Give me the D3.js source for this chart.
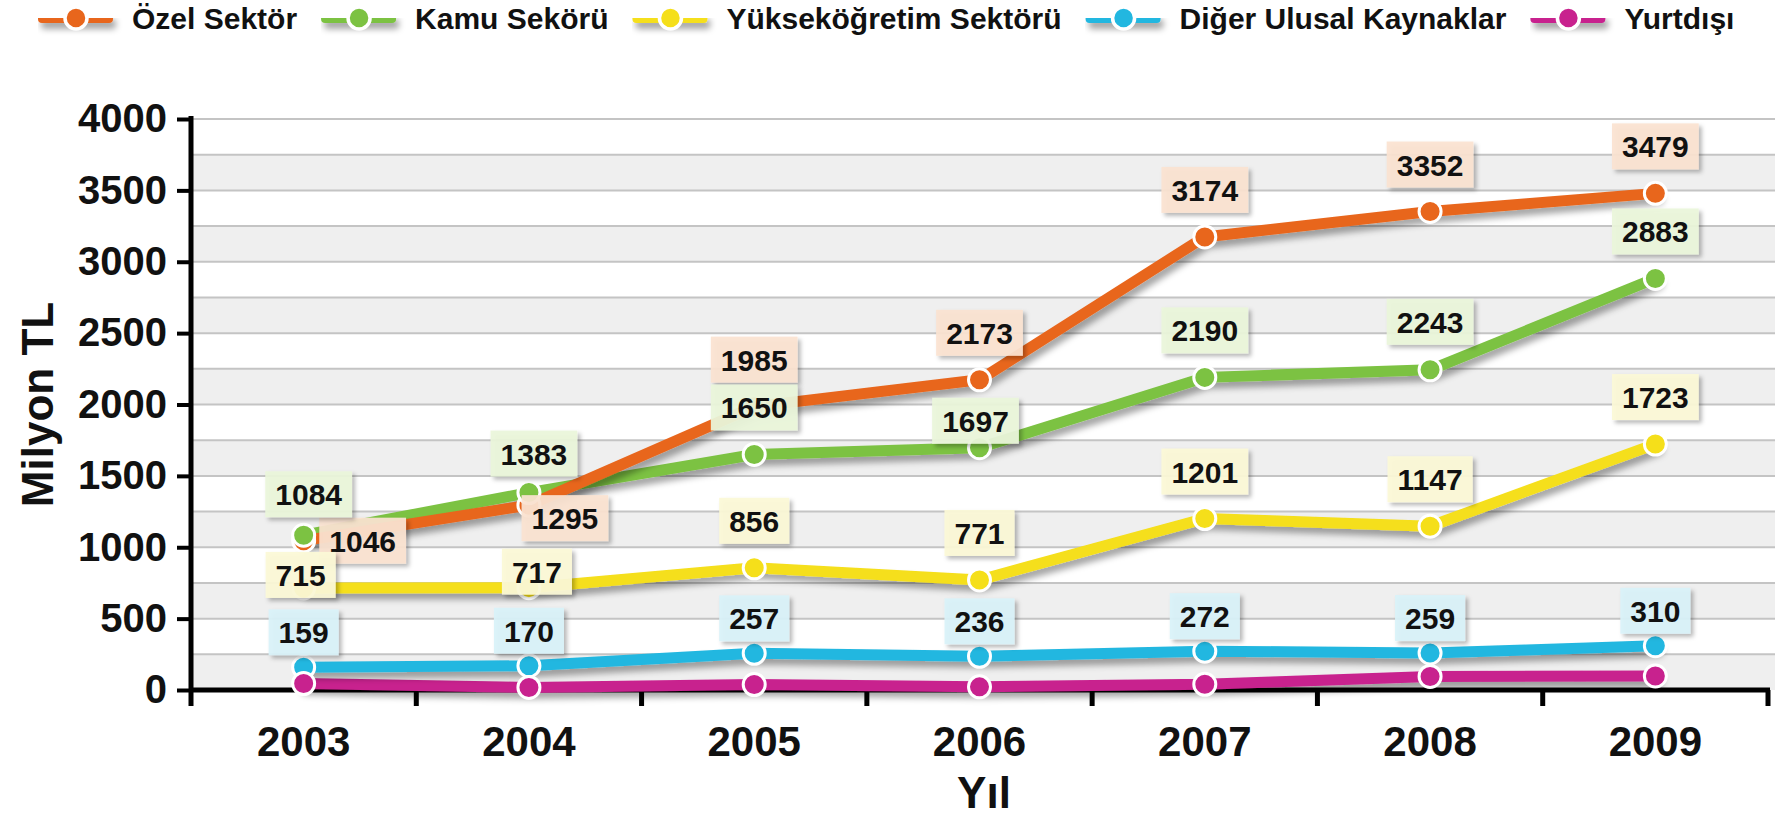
<!DOCTYPE html>
<html lang="tr">
<head>
<meta charset="UTF-8">
<title>Ar-Ge harcamaları - Milyon TL</title>
<script src="https://d3js.org/d3.v7.min.js"></script>
<style>
  body { margin: 0; background: #fff; }
  text { font-family: "Liberation Sans", Arial, sans-serif; font-weight: bold; fill: #111; }
  .axis text { font-size: 40px; }
  .xaxis text { font-size: 42px; }
  .axis line { stroke: #000; stroke-width: 4; }
  .legend text { font-size: 30px; }
  .lbl text { font-size: 30px; text-anchor: middle; }
</style>
</head>
<body>
<div id="chart"></div>
<script>
// data
const years = ["2003", "2004", "2005", "2006", "2007", "2008", "2009"];
const seriesNames = ["Özel Sektör", "Kamu Sekörü", "Yükseköğretim Sektörü", "Diğer Ulusal Kaynaklar", "Yurtdışı"];
const ozel     = [1046, 1295, 1985, 2173, 3174, 3352, 3479];
const kamu     = [1084, 1383, 1650, 1697, 2190, 2243, 2883];
const yuksek   = [715, 717, 856, 771, 1201, 1147, 1723];
const diger    = [159, 170, 257, 236, 272, 259, 310];
const yurtdisi = [45, 18, 38, 22, 40, 95, 98];
const yTicks = [0, 500, 1000, 1500, 2000, 2500, 3000, 3500, 4000];

const colors = ["#e8661c", "#7cc242", "#f5df1a", "#22b7e0", "#c8228e"];
const labelFills = ["#fbe3d1", "#ebf6da", "#fcf9d6", "#d9f2f9", null];

const series = [ozel, kamu, yuksek, diger, yurtdisi].map((values, i) => ({
  name: seriesNames[i], values, color: colors[i], fill: labelFills[i]
}));

// label placement: default sits above the point, a few are moved
const labelDy = [-47, -47, -47, -35, 0];
const labelMove = {
  "0-0": [59, 0], "0-1": [36, 13],
  "1-0": [5, -41], "1-1": [5, -39], "1-5": [0, -48], "1-3": [-4, -27],
  "2-0": [-3, -13], "2-1": [8, -16]
};

const width = 1783, height = 821;
const margin = {top: 119, right: 15, bottom: 131, left: 191};

const svg = d3.select("#chart").append("svg")
  .attr("width", width).attr("height", height)
  .style("display", "block");

const defs = svg.append("defs");
defs.append("filter").attr("id", "shadow")
  .attr("filterUnits", "userSpaceOnUse")
  .attr("x", 0).attr("y", 0).attr("width", width).attr("height", height)
  .append("feDropShadow")
  .attr("dx", 3).attr("dy", 6).attr("stdDeviation", 3)
  .attr("flood-color", "#000").attr("flood-opacity", 0.35);
defs.append("filter").attr("id", "boxshadow")
  .attr("x", "-20%").attr("y", "-30%").attr("width", "150%").attr("height", "170%")
  .append("feDropShadow")
  .attr("dx", 3).attr("dy", 3).attr("stdDeviation", 2)
  .attr("flood-color", "#000").attr("flood-opacity", 0.3);

const x = d3.scaleBand()
  .domain(years)
  .range([margin.left, 1768]);

const y = d3.scaleLinear()
  .domain([0, 4000])
  .range([height - margin.bottom, margin.top]);

const cx = (i) => x(years[i]) + x.bandwidth() / 2;
const gridRight = x.range()[1] + 7;

// grey bands and grid lines
const grid = svg.append("g");
grid.selectAll("rect")
  .data(yTicks.slice(0, -1))
  .join("rect")
    .attr("x", margin.left)
    .attr("y", d => y(d + 250))
    .attr("width", gridRight - margin.left)
    .attr("height", d => y(d) - y(d + 250))
    .attr("fill", "#efefef");
grid.selectAll("line")
  .data(d3.range(250, 4001, 250))
  .join("line")
    .attr("x1", margin.left).attr("x2", gridRight)
    .attr("y1", d => y(d)).attr("y2", d => y(d))
    .attr("stroke", "#c4c4c4").attr("stroke-width", 2);

// y axis
svg.append("g")
  .attr("class", "axis")
  .attr("transform", `translate(${margin.left},0)`)
  .call(d3.axisLeft(y).tickValues(yTicks).tickFormat(d3.format("d"))
    .tickSize(14).tickPadding(10).tickSizeOuter(0))
  .call(g => g.select(".domain").remove());

svg.append("line")
  .attr("x1", margin.left).attr("x2", margin.left)
  .attr("y1", y(4000) - 3).attr("y2", y(0) + 16)
  .attr("stroke", "#000").attr("stroke-width", 5);

// x axis
svg.append("g")
  .attr("class", "axis xaxis")
  .attr("transform", `translate(0,${y(0)})`)
  .call(d3.axisBottom(x).tickSize(0).tickPadding(36))
  .call(g => g.select(".domain").remove());

svg.append("line")
  .attr("x1", margin.left).attr("x2", x.range()[1] + 2)
  .attr("y1", y(0)).attr("y2", y(0))
  .attr("stroke", "#000").attr("stroke-width", 5);

svg.append("g")
  .selectAll("line")
  .data(years)
  .join("line")
    .attr("x1", d => x(d) + x.bandwidth()).attr("x2", d => x(d) + x.bandwidth())
    .attr("y1", y(0)).attr("y2", y(0) + 16)
    .attr("stroke", "#000").attr("stroke-width", 5);

// axis titles
svg.append("text")
  .attr("transform", `translate(53,${(y(0) + y(4000)) / 2}) rotate(-90)`)
  .attr("text-anchor", "middle")
  .style("font-size", "44px")
  .text("Milyon TL");

svg.append("text")
  .attr("x", 984).attr("y", 808)
  .attr("text-anchor", "middle")
  .style("font-size", "44px")
  .text("Yıl");

// lines, drawn bottom series first so orange sits on top
const line = d3.line()
  .x((d, i) => cx(i))
  .y(d => y(d));

svg.append("g")
  .selectAll("path")
  .data(series.slice().reverse())
  .join("path")
    .attr("d", s => line(s.values))
    .attr("fill", "none")
    .attr("stroke", s => s.color)
    .attr("stroke-width", 11)
    .attr("stroke-linejoin", "round")
    .attr("stroke-linecap", "round")
    .attr("filter", "url(#shadow)");

// points
series.forEach(s => {
  svg.append("g")
    .selectAll("circle")
    .data(s.values)
    .join("circle")
      .attr("cx", (d, i) => cx(i))
      .attr("cy", d => y(d))
      .attr("r", 11)
      .attr("fill", s.color)
      .attr("stroke", "#fff")
      .attr("stroke-width", 3);
});

// value labels
series.forEach((s, si) => {
  if (!s.fill) return;
  s.values.forEach((v, i) => {
    const mv = labelMove[`${si}-${i}`] || [0, labelDy[si]];
    const g = svg.append("g")
      .attr("class", "lbl")
      .attr("transform", `translate(${cx(i) + mv[0]},${y(v) + mv[1]})`);
    const rect = g.append("rect");
    const t = g.append("text").attr("y", 11).text(v);
    const w = t.node().getComputedTextLength() + 20;
    rect.attr("x", -w / 2).attr("y", -23)
      .attr("width", w).attr("height", 46)
      .attr("fill", s.fill)
      .attr("fill-opacity", 0.93)
      .attr("filter", "url(#boxshadow)");
  });
});

// legend
const legend = svg.append("g").attr("class", "legend");
let lx = 38;
series.forEach(s => {
  const g = legend.append("g").attr("transform", `translate(${lx},18)`);
  g.append("rect")
    .attr("x", 0).attr("y", -5)
    .attr("width", 75).attr("height", 10).attr("rx", 4)
    .attr("fill", s.color)
    .attr("filter", "url(#shadow)");
  g.append("circle")
    .attr("cx", 38).attr("r", 11)
    .attr("fill", s.color)
    .attr("stroke", "#fff").attr("stroke-width", 3.5);
  const t = g.append("text").attr("x", 94).attr("y", 11).text(s.name);
  lx += 94 + t.node().getComputedTextLength() + 24;
});
</script>
</body>
</html>
